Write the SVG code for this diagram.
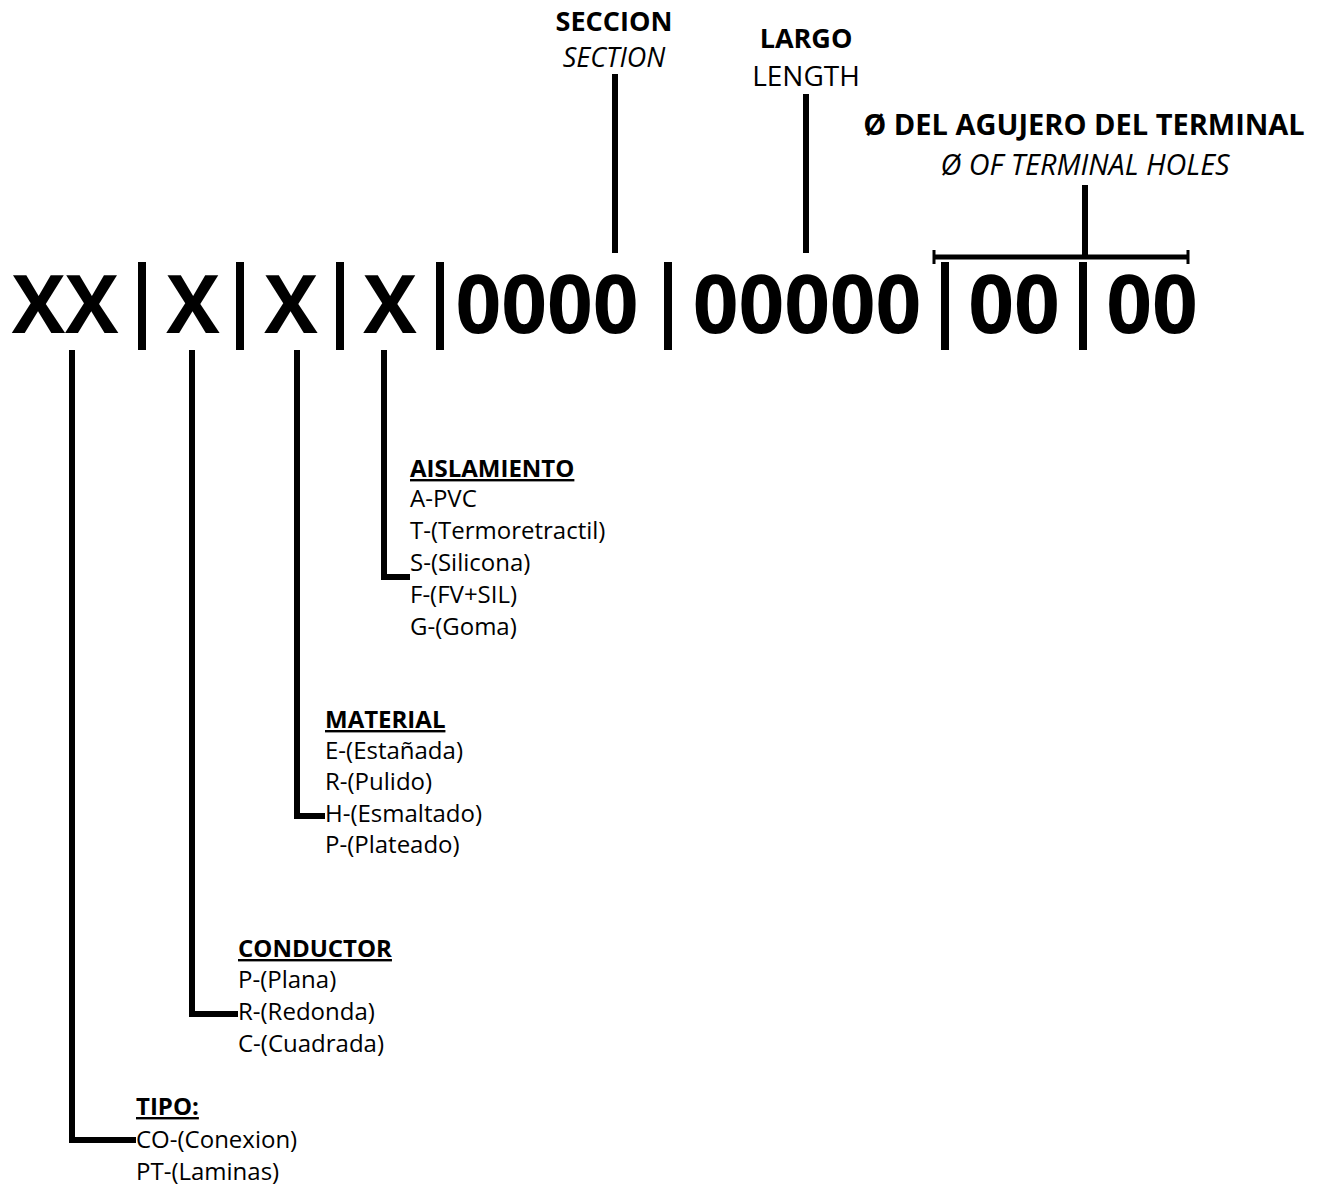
<svg xmlns="http://www.w3.org/2000/svg" width="1319" height="1189" viewBox="0 0 1319 1189">
<style>
.code{font-family:"Open Sans",sans-serif;font-weight:700;font-size:80px;fill:#000;text-anchor:middle}
.hb{font-family:"Open Sans",sans-serif;font-weight:700;font-size:27px;fill:#000;text-anchor:middle}
.hi{font-family:"Open Sans",sans-serif;font-style:italic;font-size:27px;fill:#000;text-anchor:middle}
.hr{font-family:"Open Sans",sans-serif;font-size:27px;fill:#000;text-anchor:middle}
.t{font-family:"Open Sans",sans-serif;font-size:24px;fill:#000}
.tb{font-family:"Open Sans",sans-serif;font-size:24px;font-weight:700;fill:#000;text-decoration:underline}
.ln{stroke:#000;stroke-width:6;fill:none}
.bar{fill:#000}
</style>
<rect width="1319" height="1189" fill="#fff"/>
<g id="code">
<text class="code" x="65" y="333">XX</text>
<text class="code" x="193" y="333">X</text>
<text class="code" x="291" y="333">X</text>
<text class="code" x="390" y="333">X</text>
<text class="code" x="547" y="333">0000</text>
<text class="code" x="807" y="333">00000</text>
<text class="code" x="1014" y="333">00</text>
<text class="code" x="1152" y="333">00</text>
<rect class="bar" x="138" y="262" width="8" height="88"/>
<rect class="bar" x="236" y="262" width="8" height="88"/>
<rect class="bar" x="336" y="262" width="8" height="88"/>
<rect class="bar" x="436" y="262" width="8" height="88"/>
<rect class="bar" x="664" y="262" width="8" height="88"/>
<rect class="bar" x="941" y="262" width="8" height="88"/>
<rect class="bar" x="1079" y="262" width="8" height="88"/>
</g>
<g id="seccion">
<text class="hb" x="614" y="31">SECCION</text>
<text class="hi" x="614" y="67">SECTION</text>
</g>
<g id="largo">
<text class="hb" x="806" y="48">LARGO</text>
<text class="hr" x="806" y="86" style="font-size:28px">LENGTH</text>
</g>
<g id="agujero">
<text class="hb" x="1084" y="135" style="font-size:29px">Ø DEL AGUJERO DEL TERMINAL</text>
<text class="hi" x="1085" y="175" style="font-size:28.8px">Ø OF TERMINAL HOLES</text>
</g>
<g id="aislamiento">
<text class="tb" x="410" y="477">AISLAMIENTO</text>
<text class="t" x="410" y="507">A-PVC</text>
<text class="t" x="410" y="539">T-(Termoretractil)</text>
<text class="t" x="410" y="571">S-(Silicona)</text>
<text class="t" x="410" y="603">F-(FV+SIL)</text>
<text class="t" x="410" y="635">G-(Goma)</text>
</g>
<g id="material">
<text class="tb" x="325" y="728">MATERIAL</text>
<text class="t" x="325" y="759">E-(Estañada)</text>
<text class="t" x="325" y="790">R-(Pulido)</text>
<text class="t" x="325" y="822">H-(Esmaltado)</text>
<text class="t" x="325" y="853">P-(Plateado)</text>
</g>
<g id="conductor">
<text class="tb" x="238" y="957">CONDUCTOR</text>
<text class="t" x="238" y="988">P-(Plana)</text>
<text class="t" x="238" y="1020">R-(Redonda)</text>
<text class="t" x="238" y="1052">C-(Cuadrada)</text>
</g>
<g id="tipo">
<text class="tb" x="136" y="1115">TIPO:</text>
<text class="t" x="136" y="1148">CO-(Conexion)</text>
<text class="t" x="136" y="1180">PT-(Laminas)</text>
</g>
<g id="connectors">
<line class="ln" x1="615" y1="74" x2="615" y2="253"/>
<line class="ln" x1="806" y1="94" x2="806" y2="253"/>
<line class="ln" x1="1085" y1="185" x2="1085" y2="257"/>
<line class="ln" x1="934" y1="257" x2="1188" y2="257" style="stroke-width:5"/>
<line class="ln" x1="934" y1="250" x2="934" y2="264" style="stroke-width:3"/>
<line class="ln" x1="1188" y1="250" x2="1188" y2="264" style="stroke-width:3"/>
<polyline class="ln" points="72,350 72,1140 136,1140"/>
<polyline class="ln" points="192,350 192,1014 238,1014"/>
<polyline class="ln" points="297,350 297,816 325,816"/>
<polyline class="ln" points="384,350 384,577 410,577"/>
</g>
</svg>
